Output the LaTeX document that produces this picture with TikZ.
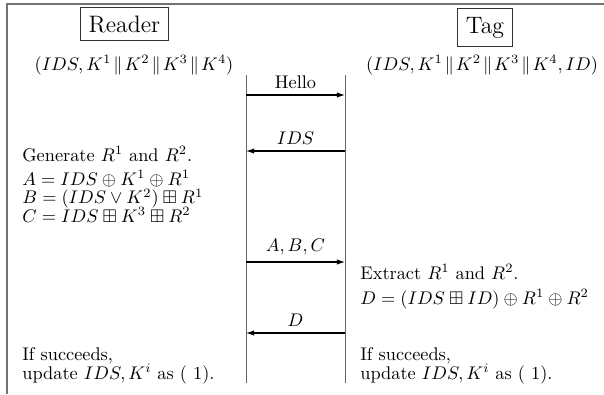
\documentclass[tikz,border=0pt]{standalone}
\usepackage{amsmath,amssymb}
\usetikzlibrary{arrows.meta}
\newcommand{\cat}{\mkern2mu\|\mkern2mu}
\newcommand{\tightlines}{\fontsize{10}{10.2}\selectfont\lineskiplimit=-100pt\relax}
\begin{document}
\begin{tikzpicture}[x=0.5464pt,y=-0.5464pt,
  party/.style={draw=black!80,line width=0.5pt,inner sep=4.6pt,font=\fontsize{13}{15}\selectfont},
  txt/.style={anchor=base west,inner sep=0pt},
  ctxt/.style={anchor=base,inner sep=0pt},
  eqblock/.style={anchor=north west,inner sep=0pt,align=left,font=\tightlines},
  lifeline/.style={draw=black!60,line width=0.5pt},
  msg/.style={draw=black,line width=0.6pt,-{Latex[length=4.5pt,width=3pt]}},
  frame/.style={draw=black!55,line width=1.1pt}]
\useasboundingbox (0,0) rectangle (604,394);

% outer frame (top and left edges)
\coordinate (fl) at (7,394);
\coordinate (fc) at (7,4);
\coordinate (fr) at (604,4);
\draw[frame] (fl) -- (fc) -- (fr);

% parties
\node[party] (reader) at (124.5,24) {Reader};
\node[party,anchor=north] (tag) at (485,8) {Tag};
\node[ctxt] (rkeys) at (134,70) {$(IDS, K^1\cat K^2\cat K^3\cat K^4)$};
\node[ctxt] (tkeys) at (482,70) {$(IDS, K^1\cat K^2\cat K^3\cat K^4, ID)$};

% lifelines
\coordinate (rtop) at (246,75);
\coordinate (rbot) at (246,383);
\coordinate (ttop) at (345,75);
\coordinate (tbot) at (345,383);
\draw[lifeline] (rtop) -- (rbot);
\draw[lifeline] (ttop) -- (tbot);

% messages
\coordinate (r1) at (246,95);  \coordinate (t1) at (345,95);
\coordinate (r2) at (246,151); \coordinate (t2) at (345,151);
\coordinate (r3) at (246,262); \coordinate (t3) at (345,262);
\coordinate (r4) at (246,333); \coordinate (t4) at (345,333);
\draw[msg] (r1) -- node[above] {Hello} (t1);
\draw[msg] (t2) -- node[above] {$IDS$} (r2);
\draw[msg] (r3) -- node[above] {$A, B, C$} (t3);
\draw[msg] (t4) -- node[above] {$D$} (r4);

% reader computations
\node[txt] (gen) at (22,161) {Generate $R^1$ and $R^2$.};
\node[eqblock] (eqs) at (22,170) {$A = IDS \oplus K^1 \oplus R^1$\\
  $B = (IDS \vee K^2) \boxplus R^1$\\
  $C = IDS \boxplus K^3 \boxplus R^2$};
\node[txt] (rok) at (22,360) {If succeeds,};
\node[txt] (rup) at (22,379) {update $IDS, K^i$ as ( 1).};

% tag computations
\node[txt] (ext) at (360,279) {Extract $R^1$ and $R^2$.};
\node[txt] (eqd) at (360,304) {$D = (IDS \boxplus ID) \oplus R^1 \oplus R^2$};
\node[txt] (tok) at (360,360) {If succeeds,};
\node[txt] (tup) at (360,379) {update $IDS, K^i$ as ( 1).};
\end{tikzpicture}
\end{document}
